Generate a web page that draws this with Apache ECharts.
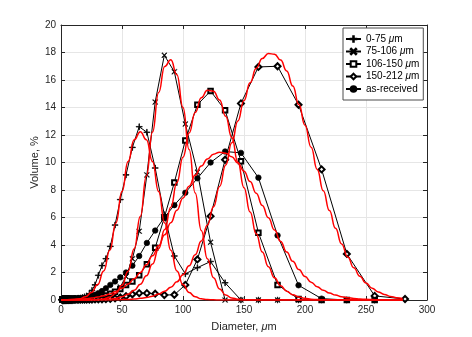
<!DOCTYPE html>
<html>
<head>
<meta charset="utf-8">
<title>Volume distribution</title>
<script src="https://cdn.jsdelivr.net/npm/echarts@6/dist/echarts.min.js"></script>
<style>
  html, body { margin: 0; padding: 0; background: #fff; }
  #chart { width: 472px; height: 337px; }
</style>
</head>
<body>
<div id="chart"></div>
<script>
// measured size bins (um)
var diameters = [1.1, 1.2, 1.3, 1.4, 1.6, 1.7, 1.9, 2.1, 2.3, 2.5, 2.8, 3.0, 3.3, 3.6, 4.0, 4.4,
  4.8, 5.3, 5.8, 6.3, 7.0, 7.6, 8.4, 9.2, 10.1, 11.1, 12.1, 13.3, 14.6, 16.0, 17.6, 19.3,
  21.1, 23.2, 25.4, 27.9, 30.6, 33.6, 36.8, 40.4, 44.3, 48.6, 53.3, 58.5, 64.1, 70.4, 77.2,
  84.7, 92.9, 101.9, 111.8, 122.6, 134.5, 147.5, 161.8, 177.5, 194.7, 213.6, 234.3, 257.1, 282.0]

var names = ['0-75 μm', '75-106 μm', '106-150 μm', '150-212 μm', 'as-received']

var vol0_75 = [0.05, 0.05, 0.06, 0.06, 0.06, 0.07, 0.07, 0.07, 0.08, 0.08, 0.08, 0.08, 0.09, 0.09, 0.09, 0.09,
  0.1, 0.1, 0.1, 0.1, 0.1, 0.1, 0.1, 0.1, 0.1, 0.11, 0.11, 0.12, 0.13, 0.15, 0.18, 0.23,
  0.3, 0.45, 0.7, 1.1, 1.8, 2.5, 3.0, 3.9, 5.45, 7.3, 9.1, 11.1, 12.6, 12.2, 9.6,
  6.2, 3.2, 1.9, 2.35, 2.8, 1.25, 0, 0, 0, 0, 0, 0, 0, null]
var vol75_106 = [0.03, 0.03, 0.03, 0.03, 0.04, 0.04, 0.04, 0.04, 0.04, 0.04, 0.04, 0.04, 0.05, 0.05, 0.05, 0.05,
  0.05, 0.05, 0.05, 0.05, 0.05, 0.05, 0.05, 0.05, 0.05, 0.05, 0.05, 0.05, 0.05, 0.05, 0.05, 0.06,
  0.06, 0.07, 0.08, 0.1, 0.12, 0.16, 0.23, 0.35, 0.55, 0.95, 1.7, 3.0, 5.0, 9.1, 14.4,
  17.8, 16.6, 12.8, 9.3, 4.2, 0, 0, 0, 0, 0, 0, 0, 0, null]
var vol106_150 = [0.03, 0.03, 0.03, 0.03, 0.03, 0.03, 0.04, 0.04, 0.04, 0.04, 0.04, 0.04, 0.04, 0.04, 0.04, 0.04,
  0.04, 0.04, 0.04, 0.04, 0.05, 0.05, 0.05, 0.05, 0.05, 0.05, 0.05, 0.05, 0.05, 0.05, 0.05, 0.06,
  0.07, 0.08, 0.1, 0.13, 0.18, 0.25, 0.33, 0.45, 0.6, 0.8, 1.1, 1.35, 1.8, 2.6, 3.8,
  6.0, 8.55, 11.6, 14.2, 15.2, 13.8, 10.1, 4.9, 1.1, 0.08, 0, 0, 0, null]
var vol150_212 = [0.02, 0.02, 0.02, 0.02, 0.02, 0.02, 0.02, 0.02, 0.02, 0.02, 0.02, 0.02, 0.02, 0.02, 0.02, 0.02,
  0.02, 0.02, 0.02, 0.02, 0.02, 0.02, 0.02, 0.02, 0.03, 0.03, 0.03, 0.03, 0.03, 0.03, 0.03, 0.03,
  0.03, 0.03, 0.03, 0.04, 0.04, 0.05, 0.06, 0.08, 0.12, 0.18, 0.28, 0.42, 0.5, 0.5, 0.46,
  0.36, 0.38, 1.1, 2.95, 6.1, 10.2, 14.3, 16.95, 17.0, 14.2, 9.5, 3.35, 0.3, 0.07]
var volReceived = [0.06, 0.06, 0.06, 0.07, 0.07, 0.07, 0.07, 0.08, 0.08, 0.08, 0.08, 0.08, 0.09, 0.09, 0.09, 0.09,
  0.09, 0.1, 0.1, 0.1, 0.1, 0.1, 0.1, 0.1, 0.11, 0.11, 0.11, 0.11, 0.12, 0.12, 0.13, 0.14,
  0.17, 0.22, 0.3, 0.38, 0.5, 0.65, 0.85, 1.1, 1.35, 1.65, 2.0, 2.5, 3.2, 4.15, 5.05,
  6.0, 6.9, 7.8, 8.85, 10.0, 10.8, 10.7, 8.9, 4.7, 1.07, 0.1, 0, 0, null]

var fitDiameters = [0, 5, 10, 15, 20, 25, 30, 35, 40, 45, 50, 55, 60, 65, 70, 75, 80, 85, 90, 95,
  100, 105, 110, 115, 120, 125, 130, 135, 140, 145, 150, 155, 160, 165, 170, 175, 180, 185, 190, 195,
  200, 205, 210, 215, 220, 225, 230, 235, 240, 245, 250, 255, 260, 265, 270, 275, 280]
var fit0_75 = [0, 0.01, 0.03, 0.09, 0.23, 0.54, 1.12, 2.11, 3.61, 5.6, 7.89, 10.07, 11.65, 12.24, 11.65, 10.07, 7.89, 5.6, 3.61, 2.11,
  1.12, 0.54, 0.23, 0.09, 0.03, 0.01, 0, 0, 0, 0, 0, 0, 0, 0, 0, 0, 0, 0, 0, 0,
  0, 0, 0, 0, 0, 0, 0, 0, 0, 0, 0, 0, 0, 0, 0, 0, 0]
var fit75_106 = [0, 0, 0, 0, 0, 0.01, 0.03, 0.08, 0.21, 0.5, 1.07, 2.09, 3.73, 6.08, 9.02, 12.21, 15.08, 16.99, 17.47, 16.38,
  14.0, 10.94, 7.79, 5.06, 3.0, 1.62, 0.8, 0.36, 0.15, 0.06, 0.02, 0, 0, 0, 0, 0, 0, 0, 0, 0,
  0, 0, 0, 0, 0, 0, 0, 0, 0, 0, 0, 0, 0, 0, 0, 0, 0]
var fit106_150 = [0, 0, 0, 0, 0, 0.01, 0.02, 0.04, 0.07, 0.13, 0.24, 0.42, 0.71, 1.14, 1.76, 2.61, 3.73, 5.12, 6.74, 8.54,
  10.39, 12.14, 13.64, 14.71, 15.25, 15.19, 14.54, 13.36, 11.81, 10.02, 8.17, 6.4, 4.82, 3.49, 2.42, 1.62, 1.04, 0.64, 0.38, 0.22,
  0.12, 0.06, 0.03, 0.02, 0.01, 0, 0, 0, 0, 0, 0, 0, 0, 0, 0, 0, 0]
var fit150_212 = [0, 0, 0, 0, 0, 0, 0, 0, 0, 0.01, 0.03, 0.04, 0.07, 0.12, 0.18, 0.28, 0.43, 0.64, 0.93, 1.32,
  1.83, 2.49, 3.3, 4.29, 5.46, 6.79, 8.25, 9.82, 11.43, 13.02, 14.51, 15.8, 16.85, 17.57, 17.92, 17.88, 17.45, 16.66, 15.56, 14.22,
  12.71, 11.11, 9.5, 7.95, 6.51, 5.21, 4.08, 3.13, 2.34, 1.72, 1.23, 0.86, 0.59, 0.4, 0.26, 0.17, 0.11]
var fitReceived = [0.01, 0.02, 0.04, 0.06, 0.09, 0.14, 0.21, 0.31, 0.44, 0.62, 0.86, 1.16, 1.54, 2.0, 2.56, 3.21, 3.94, 4.75, 5.62, 6.52,
  7.42, 8.28, 9.07, 9.74, 10.26, 10.6, 10.75, 10.68, 10.42, 9.97, 9.36, 8.61, 7.77, 6.88, 5.98, 5.09, 4.26, 3.49, 2.81, 2.21,
  1.71, 1.3, 0.97, 0.71, 0.51, 0.36, 0.24, 0.17, 0.11, 0.07, 0.05, 0.03, 0.02, 0.01, 0.01, 0, 0]

var FONT = '"Liberation Sans", Arial, Helvetica, sans-serif'
var INK = '#262626'

function pairs(xs, ys) {
  return xs.map(function (x, i) { return [x, ys[i]] })
}

// thin plus / cross glyphs for the markers
var plusPath = 'path://M4.5,0h1v4.5h4.5v1h-4.5v4.5h-1v-4.5h-4.5v-1h4.5z'
var crossPath = 'path://M0,0.8L0.8,0L5,4.2L9.2,0L10,0.8L5.8,5L10,9.2L9.2,10L5,5.8L0.8,10L0,9.2L4.2,5Z'

var measured = [
  { name: names[0], data: vol0_75, symbol: plusPath, size: 6 },
  { name: names[1], data: vol75_106, symbol: crossPath, size: 5 },
  { name: names[2], data: vol106_150, symbol: 'emptyRect', size: 4.5 },
  { name: names[3], data: vol150_212, symbol: 'emptyDiamond', size: 6 },
  { name: names[4], data: volReceived, symbol: 'circle', size: 5.5 }
]
var fits = [fit0_75, fit75_106, fit106_150, fit150_212, fitReceived]

var series = measured.map(function (m) {
  return {
    name: m.name,
    type: 'line',
    data: pairs(diameters, m.data),
    symbol: m.symbol,
    symbolSize: m.size,
    showAllSymbol: true,
    lineStyle: { color: '#000', width: 1 },
    itemStyle: { color: '#000', borderColor: '#000', borderWidth: 0.7 },
    z: 2
  }
}).concat(fits.map(function (f, i) {
  return {
    name: 'fit ' + i,
    type: 'line',
    data: pairs(fitDiameters, f),
    showSymbol: false,
    smooth: true,
    smoothMonotone: 'x',
    silent: true,
    lineStyle: { color: '#ff0000', width: 1.5 },
    z: 3
  }
}))

function axisBase(min, max, interval) {
  return {
    type: 'value',
    min: min,
    max: max,
    interval: interval,
    axisLine: { show: true, onZero: false, lineStyle: { color: INK, width: 1 } },
    axisTick: { show: true, inside: true, length: 4, lineStyle: { color: INK } },
    axisLabel: { color: INK, fontSize: 10, fontFamily: FONT, margin: 5 },
    splitLine: { show: true, lineStyle: { color: '#e6e6e6', width: 1 } }
  }
}

var xMain = axisBase(0, 300, 50)
xMain.name = 'Diameter, {i|μ}m'
xMain.nameLocation = 'middle'
xMain.nameGap = 21
xMain.nameMoveOverlap = false
xMain.nameTextStyle = {
  color: INK, fontSize: 11, fontFamily: FONT,
  rich: { i: { fontStyle: 'italic', fontSize: 11, fontFamily: FONT, color: INK } }
}
var xTop = axisBase(0, 300, 50)
xTop.position = 'top'
xTop.axisLabel = { show: false }
xTop.splitLine = { show: false }

var yMain = axisBase(0, 20, 2)
yMain.name = 'Volume, %'
yMain.nameLocation = 'middle'
yMain.nameGap = 21
yMain.nameMoveOverlap = false
yMain.nameTextStyle = { color: INK, fontSize: 11, fontFamily: FONT }
var yRight = axisBase(0, 20, 2)
yRight.position = 'right'
yRight.axisLabel = { show: false }
yRight.splitLine = { show: false }

var chart = echarts.init(document.getElementById('chart'), null, { renderer: 'canvas' })
chart.setOption({
  animation: false,
  backgroundColor: '#fff',
  grid: { left: 61, right: 45, top: 25, bottom: 37, containLabel: false },
  xAxis: [xMain, xTop],
  yAxis: [yMain, yRight],
  legend: {
    data: names,
    orient: 'vertical',
    left: 343,
    top: 28,
    padding: [5, 4, 5, 2],
    itemWidth: 15,
    itemHeight: 7,
    itemGap: 0.5,
    backgroundColor: '#fff',
    borderColor: '#4d4d4d',
    borderWidth: 1,
    borderRadius: 0,
    formatter: function (name) {
      return name.replace('μm', '{i|μ}m')
    },
    textStyle: {
      color: '#000', fontSize: 10, fontFamily: FONT, lineHeight: 12,
      rich: { i: { fontStyle: 'italic', fontSize: 10, fontFamily: FONT, color: '#000' } }
    }
  },
  series: series
})
</script>
</body>
</html>
